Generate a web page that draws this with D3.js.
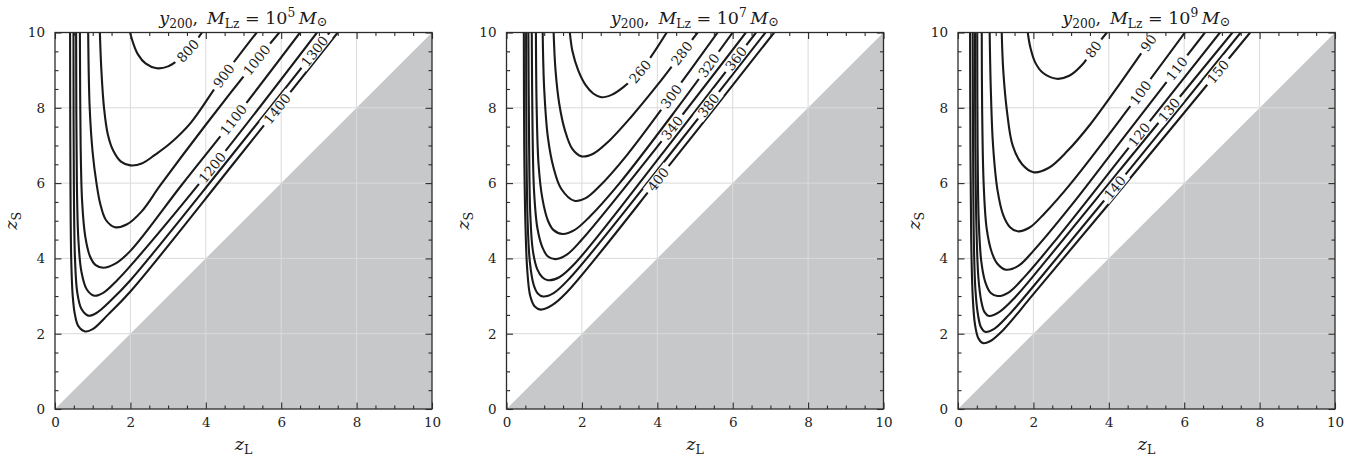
<!DOCTYPE html>
<html>
<head>
<meta charset="utf-8">
<script src="https://cdn.jsdelivr.net/npm/d3@7"></script>
<style>
  body { margin: 0; background: #fff; }
  svg { display: block; }
</style>
</head>
<body>
<svg id="fig" width="1364" height="458"></svg>
<script>
// ---- axis ticks ----
const majorTicks = [0, 2, 4, 6, 8, 10];
const minorTicks = [0.5, 1, 1.5, 2.5, 3, 3.5, 4.5, 5, 5.5, 6.5, 7, 7.5, 8.5, 9, 9.5];
const gridTicks = [2, 4, 6, 8];

// lens halo mass exponent per panel (M_Lz = 10^n M_sun)
const massExponents = [5, 7, 9];

// excluded region z_S < z_L
const excludedRegion = [[0, 0], [10, 0], [10, 10]];

// ---- y200 contours, M_Lz = 1e5 ----
const levels1 = [800, 900, 1000, 1100, 1200, 1300, 1400];
const contours1 = [
  [[1.99,10],[2.08,9.7],[2.2,9.42],[2.4,9.18],[2.7,9.05],[3.0,9.1],[3.3,9.3],[3.6,9.6],[3.9,10]],
  [[1.19,10],[1.23,9],[1.3,8],[1.4,7.3],[1.55,6.85],[1.75,6.57],[2.0,6.47],[2.3,6.52],[2.65,6.75],[3.05,7.05],[3.6,7.6],[4.4,8.75],[5.35,10]],
  [[0.88,10],[0.92,8],[1.0,6.8],[1.1,6.0],[1.2,5.45],[1.35,5.02],[1.59,4.83],[1.9,4.9],[2.3,5.25],[2.8,5.95],[4.0,7.55],[5.35,9.27],[5.95,10]],
  [[0.66,10],[0.68,7],[0.72,5.5],[0.8,4.6],[0.93,4.05],[1.08,3.82],[1.28,3.75],[1.6,3.86],[2.0,4.2],[3.36,5.95],[4.73,7.68],[6.5,10]],
  [[0.56,10],[0.58,6],[0.62,4.5],[0.7,3.65],[0.84,3.18],[1.04,3.01],[1.3,3.1],[1.65,3.42],[2.0,3.8],[4.2,6.45],[6.95,10]],
  [[0.49,10],[0.5,6],[0.53,4],[0.59,3.1],[0.7,2.66],[0.88,2.48],[1.1,2.55],[1.5,2.9],[2.0,3.42],[4.5,6.5],[7.28,10]],
  [[0.40,10],[0.41,6],[0.43,4],[0.47,3],[0.53,2.5],[0.62,2.2],[0.8,2.06],[1.0,2.12],[1.4,2.5],[2.0,3.12],[4.8,6.6],[7.5,10]]
];
const labelAt1 = [[3.5,9.54],[4.42,8.9],[5.35,9.27],[4.73,7.68],[4.2,6.4],[6.9,9.5],[5.88,7.99]];

// ---- y200 contours, M_Lz = 1e7 ----
const levels2 = [260, 280, 300, 320, 340, 360, 380, 400];
const contours2 = [
  [[1.68,10],[1.75,9.5],[1.9,9.0],[2.1,8.6],[2.3,8.38],[2.52,8.28],[2.8,8.35],[3.1,8.55],[3.54,8.96],[4.25,10]],
  [[1.25,10],[1.3,9],[1.4,8.1],[1.55,7.4],[1.75,6.9],[1.99,6.71],[2.3,6.78],[2.7,7.1],[3.3,7.75],[4.0,8.6],[4.65,9.45],[5.07,10]],
  [[0.96,10],[1.0,8.5],[1.1,7.2],[1.25,6.4],[1.45,5.85],[1.8,5.53],[2.1,5.6],[2.5,5.95],[3.2,6.75],[4.4,8.35],[5.6,10]],
  [[0.78,10],[0.8,8],[0.85,6.5],[0.95,5.6],[1.1,5.0],[1.25,4.75],[1.49,4.65],[1.8,4.75],[2.2,5.1],[3.0,6.0],[4.5,7.95],[6.0,10]],
  [[0.67,10],[0.69,7.5],[0.73,5.8],[0.82,4.8],[0.95,4.3],[1.1,4.05],[1.3,3.98],[1.6,4.1],[2.0,4.5],[4.2,7.22],[6.35,10]],
  [[0.58,10],[0.6,7],[0.63,5.2],[0.7,4.2],[0.82,3.7],[0.95,3.5],[1.1,3.42],[1.4,3.5],[1.8,3.85],[4.2,6.87],[6.62,10]],
  [[0.52,10],[0.53,7],[0.56,5],[0.62,3.9],[0.72,3.3],[0.83,3.07],[0.97,2.99],[1.25,3.08],[1.7,3.5],[4.3,6.72],[6.87,10]],
  [[0.46,10],[0.47,7],[0.5,5],[0.55,3.7],[0.63,3.0],[0.75,2.72],[0.91,2.64],[1.2,2.75],[1.6,3.1],[4.3,6.45],[7.1,10]]
];
const labelAt2 = [[3.54,8.96],[4.65,9.45],[4.38,8.3],[5.35,9.14],[4.42,7.45],[6.15,9.27],[5.35,8.08],[4.03,6.09]];

// ---- y200 contours, M_Lz = 1e9 ----
const levels3 = [80, 90, 100, 110, 120, 130, 140, 150];
const contours3 = [
  [[1.85,10],[1.92,9.6],[2.05,9.2],[2.25,8.93],[2.62,8.77],[2.95,8.85],[3.3,9.15],[3.59,9.55],[3.95,10]],
  [[1.16,10],[1.2,9],[1.3,7.9],[1.45,7.0],[1.7,6.5],[2.0,6.29],[2.4,6.4],[2.9,6.85],[3.5,7.55],[4.3,8.65],[5.05,9.72],[5.25,10]],
  [[0.84,10],[0.87,8.5],[0.93,7],[1.05,5.8],[1.2,5.15],[1.38,4.83],[1.58,4.72],[1.9,4.82],[2.3,5.2],[3.0,6.0],[4.5,7.95],[6.02,10]],
  [[0.63,10],[0.64,8],[0.68,6],[0.76,4.8],[0.9,4.15],[1.05,3.85],[1.27,3.7],[1.6,3.8],[2.0,4.2],[3.0,5.4],[4.5,7.35],[6.55,10]],
  [[0.51,10],[0.52,7],[0.55,5],[0.62,3.9],[0.73,3.35],[0.87,3.08],[1.05,3.0],[1.35,3.1],[1.8,3.55],[2.6,4.5],[4.5,6.9],[6.95,10]],
  [[0.45,10],[0.46,7],[0.49,4.8],[0.54,3.5],[0.62,2.85],[0.7,2.58],[0.82,2.47],[1.1,2.58],[1.5,2.95],[2.4,4.02],[4.5,6.6],[7.28,10]],
  [[0.39,10],[0.4,7],[0.42,4.5],[0.46,3.2],[0.53,2.5],[0.61,2.17],[0.72,2.05],[0.95,2.12],[1.35,2.5],[2.2,3.5],[4.5,6.3],[7.5,10]],
  [[0.32,10],[0.33,7],[0.35,4.5],[0.39,3],[0.45,2.25],[0.54,1.88],[0.66,1.75],[0.85,1.8],[1.2,2.1],[2.0,3.05],[4.5,6.05],[7.75,10]]
];
const labelAt3 = [[3.59,9.55],[5.05,9.72],[4.85,8.4],[5.8,9.05],[4.8,7.3],[5.6,7.95],[4.15,5.9],[6.9,8.95]];

const panels = [
  { exp: massExponents[0], levels: levels1, lines: contours1, labels: labelAt1 },
  { exp: massExponents[1], levels: levels2, lines: contours2, labels: labelAt2 },
  { exp: massExponents[2], levels: levels3, lines: contours3, labels: labelAt3 }
];

// ---- layout ----
const panelLeft = [55, 506.5, 958];
const plotTop = 32.5;
const W = 377, H = 376.5;
const serif = '"DejaVu Serif", "Liberation Serif", serif';
const inkColor = '#1a1a1a';
const frameColor = '#2b2b2b';

const svg = d3.select('#fig');
const defs = svg.append('defs');

panels.forEach((p, i) => {
  const g = svg.append('g').attr('transform', `translate(${panelLeft[i]},${plotTop})`);
  const x = d3.scaleLinear().domain([0, 10]).range([0, W]);
  const y = d3.scaleLinear().domain([0, 10]).range([H, 0]);

  // background
  g.append('rect').attr('width', W).attr('height', H).attr('fill', '#fff');

  // unphysical region (source in front of lens)
  const poly = d3.line().x(d => x(d[0])).y(d => y(d[1]));
  g.append('path').attr('d', poly(excludedRegion) + 'Z').attr('fill', '#c7c8ca');

  // grid
  const grid = g.append('g').attr('stroke', '#dadada').attr('stroke-width', 1);
  grid.selectAll('line.gx').data(gridTicks).join('line').attr('class', 'gx')
    .attr('x1', d => x(d)).attr('x2', d => x(d)).attr('y1', 0).attr('y2', H);
  grid.selectAll('line.gy').data(gridTicks).join('line').attr('class', 'gy')
    .attr('y1', d => y(d)).attr('y2', d => y(d)).attr('x1', 0).attr('x2', W);

  // contour lines, clipped to the plot and masked where labels sit
  defs.append('clipPath').attr('id', 'clip' + i)
    .append('rect').attr('width', W).attr('height', H);
  const mask = defs.append('mask').attr('id', 'gap' + i)
    .attr('maskUnits', 'userSpaceOnUse')
    .attr('x', -20).attr('y', -20).attr('width', W + 40).attr('height', H + 40);
  mask.append('rect').attr('x', -20).attr('y', -20)
    .attr('width', W + 40).attr('height', H + 40).attr('fill', '#fff');

  const cg = g.append('g').attr('clip-path', `url(#clip${i})`);
  const lg = cg.append('g').attr('mask', `url(#gap${i})`);
  const line = d3.line().x(d => x(d[0])).y(d => y(d[1])).curve(d3.curveCatmullRom.alpha(0.5));
  const paths = lg.selectAll('path').data(p.lines).join('path')
    .attr('d', line)
    .attr('fill', 'none')
    .attr('stroke', inkColor)
    .attr('stroke-width', 2.1)
    .attr('stroke-linejoin', 'round');

  // inline contour labels
  const labG = g.append('g')
    .attr('font-family', serif).attr('font-size', 13.5).attr('fill', inkColor);
  p.levels.forEach((lev, k) => {
    const node = paths.nodes()[k];
    const total = node.getTotalLength();
    const ax = x(p.labels[k][0]), ay = y(p.labels[k][1]);
    let best = 0, bd = Infinity;
    for (let l = 0; l <= total; l += 0.5) {
      const pt = node.getPointAtLength(l);
      const dd = (pt.x - ax) ** 2 + (pt.y - ay) ** 2;
      if (dd < bd) { bd = dd; best = l; }
    }
    const c = node.getPointAtLength(best);
    const a = node.getPointAtLength(Math.max(0, best - 5));
    const b = node.getPointAtLength(Math.min(total, best + 5));
    let ang = Math.atan2(b.y - a.y, b.x - a.x) * 180 / Math.PI;
    if (ang > 90) ang -= 180;
    if (ang < -90) ang += 180;
    const tf = `translate(${c.x},${c.y}) rotate(${ang})`;
    const t = labG.append('text').attr('transform', tf)
      .attr('text-anchor', 'middle').attr('dy', '0.36em').text(lev);
    const len = t.node().getComputedTextLength();
    mask.append('rect').attr('transform', tf)
      .attr('x', -len / 2 - 4).attr('y', -6).attr('width', len + 8).attr('height', 12)
      .attr('fill', '#000');
  });

  // axes: inward ticks on all four sides
  const styleAxis = sel => {
    sel.select('.domain').remove();
    sel.selectAll('.tick line').attr('stroke', frameColor).attr('stroke-width', 1.1);
    sel.selectAll('.tick text').attr('font-family', serif).attr('font-size', 13.5).attr('fill', '#222');
  };
  g.append('g').attr('transform', `translate(0,${H})`)
    .call(d3.axisBottom(x).tickValues(majorTicks).tickSize(-6.5).tickPadding(8).tickFormat(d3.format('d')))
    .call(styleAxis);
  g.append('g').attr('transform', `translate(0,${H})`)
    .call(d3.axisBottom(x).tickValues(minorTicks).tickSize(-3.5).tickFormat(''))
    .call(styleAxis);
  g.append('g')
    .call(d3.axisLeft(y).tickValues(majorTicks).tickSize(-6.5).tickPadding(10).tickFormat(d3.format('d')))
    .call(styleAxis);
  g.append('g')
    .call(d3.axisLeft(y).tickValues(minorTicks).tickSize(-3.5).tickFormat(''))
    .call(styleAxis);
  g.append('g')
    .call(d3.axisTop(x).tickValues(majorTicks).tickSize(-6.5).tickFormat(''))
    .call(styleAxis);
  g.append('g')
    .call(d3.axisTop(x).tickValues(minorTicks).tickSize(-3.5).tickFormat(''))
    .call(styleAxis);
  g.append('g').attr('transform', `translate(${W},0)`)
    .call(d3.axisRight(y).tickValues(majorTicks).tickSize(-6.5).tickFormat(''))
    .call(styleAxis);
  g.append('g').attr('transform', `translate(${W},0)`)
    .call(d3.axisRight(y).tickValues(minorTicks).tickSize(-3.5).tickFormat(''))
    .call(styleAxis);

  // frame
  g.append('rect').attr('width', W).attr('height', H)
    .attr('fill', 'none').attr('stroke', frameColor).attr('stroke-width', 1.3);

  // title: y_200, M_Lz = 10^n M_sun
  const title = g.append('text').attr('x', W / 2).attr('y', -9)
    .attr('text-anchor', 'middle').attr('font-family', serif).attr('font-size', 17.5).attr('fill', '#1a1a1a');
  title.append('tspan').attr('font-style', 'italic').text('y');
  title.append('tspan').attr('font-size', '0.7em').attr('dy', 4).text('200');
  title.append('tspan').attr('dy', -4).text(',\u2002');
  title.append('tspan').attr('font-style', 'italic').text('M');
  title.append('tspan').attr('font-size', '0.7em').attr('dy', 4).text('Lz');
  title.append('tspan').attr('dy', -4).text(' = 10');
  title.append('tspan').attr('font-size', '0.7em').attr('dy', -7).text(p.exp);
  title.append('tspan').attr('dy', 7).text('\u2009');
  title.append('tspan').attr('font-style', 'italic').text('M');
  title.append('tspan').attr('font-size', '0.75em').attr('dy', 2).text('\u2299');

  // x label
  const xl = g.append('text').attr('x', W / 2).attr('y', H + 41)
    .attr('text-anchor', 'middle').attr('font-family', serif).attr('font-size', 17.5).attr('fill', '#1a1a1a');
  xl.append('tspan').attr('font-style', 'italic').text('z');
  xl.append('tspan').attr('font-size', '0.72em').attr('dy', 4).text('L');

  // y label
  const yl = g.append('text').attr('transform', `translate(-38,${H / 2}) rotate(-90)`)
    .attr('text-anchor', 'middle').attr('font-family', serif).attr('font-size', 17.5).attr('fill', '#1a1a1a');
  yl.append('tspan').attr('font-style', 'italic').text('z');
  yl.append('tspan').attr('font-size', '0.72em').attr('dy', 4).text('S');
});
</script>
</body>
</html>
